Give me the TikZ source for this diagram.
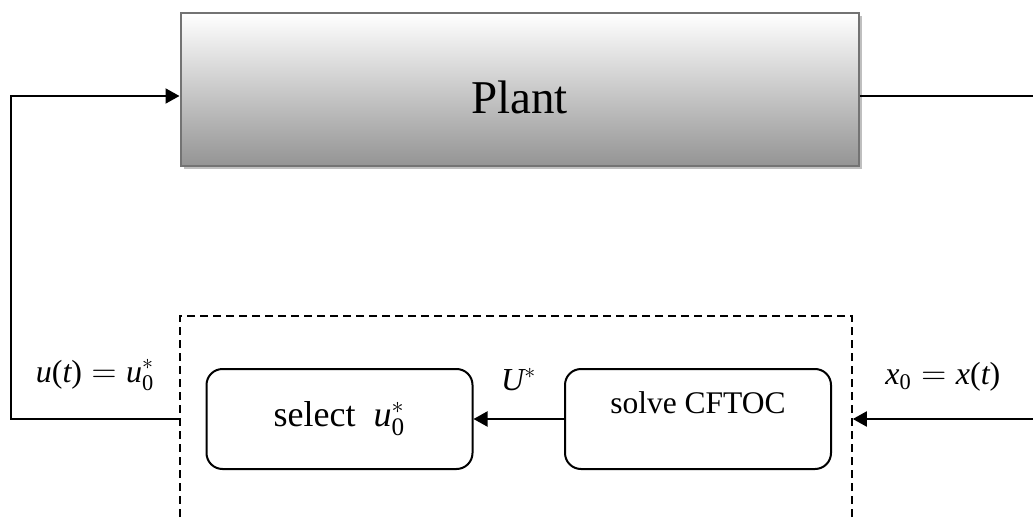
\documentclass[tikz,border=0pt]{standalone}
\usepackage{amsmath}
\usepackage{fontspec}
\setmainfont{Liberation Serif}
\usetikzlibrary{arrows.meta,shadows,positioning}
\newcommand{\mv}[1]{\textit{#1}}

\begin{document}
\begin{tikzpicture}[x=0.5pt,y=-0.5pt]
        \tikzstyle{plantbox}=[rectangle,draw=black!55,line width=1pt,top color=white,bottom color=black!42,drop shadow={shadow xshift=1.6pt,shadow yshift=-1.6pt,fill=black!25,opacity=1},minimum width=339pt,minimum height=76.5pt,inner sep=0pt]
        \tikzstyle{block}=[rectangle,rounded corners=8pt,draw=black,line width=1pt,minimum width=133pt,minimum height=50pt,inner sep=0pt]
        \tikzstyle{frame}=[rectangle,draw=black,line width=0.8pt,dash pattern=on 4pt off 2.5pt,minimum width=336pt,minimum height=122pt,inner sep=0pt]
        \tikzstyle{edge}=[draw,line width=1pt,-{Triangle[length=7pt,width=7.5pt]}]
        \tikzstyle{wire}=[draw,line width=1pt]
        \tikzstyle{sig}=[inner sep=0pt,font=\fontsize{16}{19}\selectfont]
        \useasboundingbox (0,0) rectangle (1033,519);
        \clip (0,0) rectangle (1033,519);
        \begin{scope}
                \node [frame] (mpc) at (516,438) {};
                \node [plantbox,font=\fontsize{23.5}{28}\selectfont,text height=23.5pt,text depth=0pt] (plant) at (519.5,89.5) {Plant};
                \node [block,font=\fontsize{18}{22}\selectfont,text height=12pt,text depth=5pt] (sel) at (339.5,419) {select\ \ $\mv{u}_{\textrm{0}}^{*}$};
                \node [block,font=\fontsize{15.75}{19}\selectfont,text height=11pt,text depth=17pt] (cftoc) at (698,419) {solve CFTOC};
                \coordinate (uTop) at (11,96);
                \coordinate (yOut) at (1033,96);
                \coordinate (xIn) at (1033,419);
                \path[edge] (cftoc) -- node[sig,above=13.5pt] {$\mv{U}^{*}$} (sel);
                \path[edge] (mpc.west |- sel) -| node[sig,pos=0.25,above=13.5pt] {$\mv{u}\textrm{(}\mv{t}\textrm{)}=\mv{u}_{\textrm{0}}^{*}$} (uTop) -- (plant.west |- uTop);
                \path[wire] (plant.east |- yOut) -- (yOut);
                \path[edge] (xIn) -- node[sig,above=13.5pt] {$\mv{x}_{\textrm{0}}=\mv{x}\textrm{(}\mv{t}\textrm{)}$} (mpc.east |- xIn);
        \end{scope}
\end{tikzpicture}
\end{document}
